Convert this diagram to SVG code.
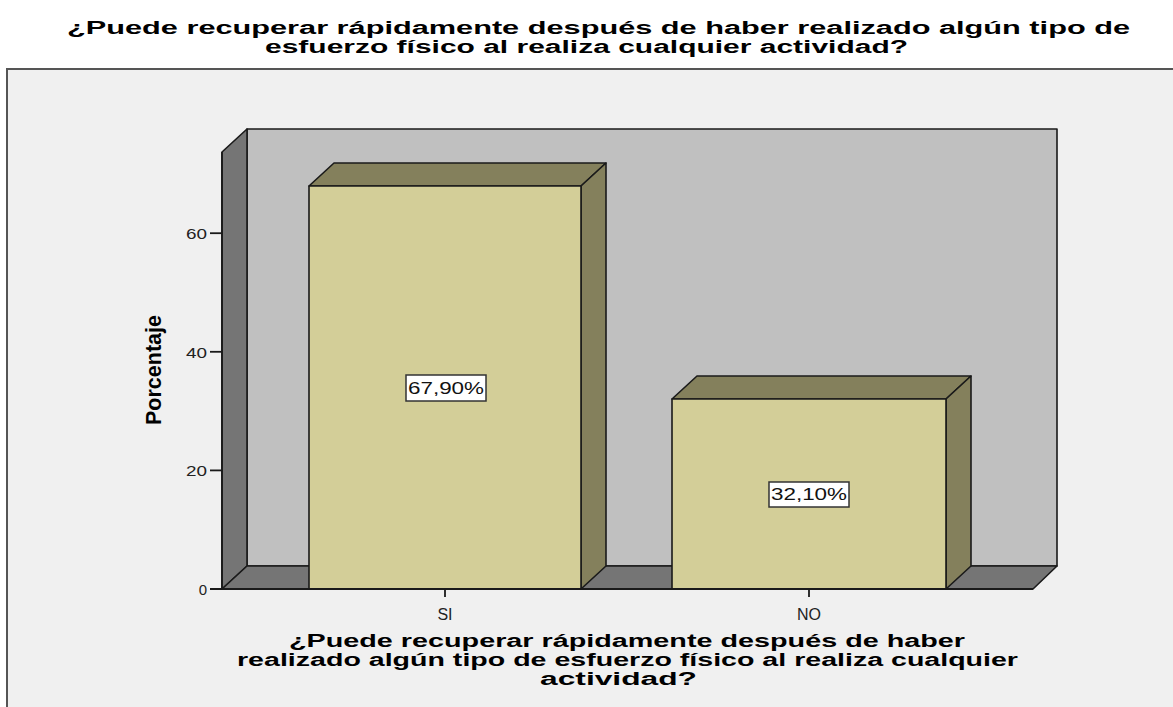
<svg xmlns="http://www.w3.org/2000/svg" width="1173" height="707" viewBox="0 0 1173 707">
<style>
.t{font-family:"Liberation Sans",Arial,sans-serif;font-weight:bold;font-size:18px;fill:#000}
.ax{font-family:"Liberation Sans",Arial,sans-serif;font-size:15px;fill:#222}
.lb{font-family:"Liberation Sans",Arial,sans-serif;font-size:16px;fill:#111}
.ol{stroke:#1a1a1a;stroke-width:1.6;stroke-linejoin:round}
.wall{fill:#c0c0c0}
.dark{fill:#757575}
.front{fill:#d3ce98}
.shade{fill:#84805c}
</style>
<rect x="0" y="0" width="1173" height="707" fill="#ffffff"/>
<g id="frame">
<rect x="7" y="69" width="1180" height="660" fill="#f0f0f0" stroke="#555" stroke-width="2"/>
</g>
<g id="title">
<text class="t" x="67" y="34" textLength="1063" lengthAdjust="spacingAndGlyphs">¿Puede recuperar rápidamente después de haber realizado algún tipo de</text>
<text class="t" x="265" y="53" textLength="643" lengthAdjust="spacingAndGlyphs">esfuerzo físico al realiza cualquier actividad?</text>
</g>
<g id="walls">
<rect class="wall ol" x="247" y="129" width="810" height="437"/>
<polygon class="dark ol" points="222,152 247,129 247,566 222,589"/>
<polygon class="dark ol" points="222,589 247,566 1057,566 1033,589"/>
</g>
<g id="bar-si">
<polygon class="shade ol" points="309,186 334,163 606,163 581,186"/>
<polygon class="shade ol" points="581,186 606,163 606,566 581,589"/>
<rect class="front ol" x="309" y="186" width="272" height="403"/>
<rect x="406" y="375" width="80" height="26" fill="#fff" stroke="#333" stroke-width="1.5"/>
<text class="lb" x="408" y="394" textLength="76" lengthAdjust="spacingAndGlyphs">67,90%</text>
</g>
<g id="bar-no">
<polygon class="shade ol" points="672,399 697,376 971,376 946,399"/>
<polygon class="shade ol" points="946,399 971,376 971,566 946,589"/>
<rect class="front ol" x="672" y="399" width="274" height="190"/>
<rect x="769" y="482" width="80" height="25" fill="#fff" stroke="#333" stroke-width="1.5"/>
<text class="lb" x="771" y="500" textLength="76" lengthAdjust="spacingAndGlyphs">32,10%</text>
</g>
<g id="axes" stroke="#1a1a1a" stroke-width="1.8">
<line x1="222" y1="152" x2="222" y2="589"/>
<line x1="210" y1="589" x2="1033" y2="589"/>
<line x1="210" y1="470.4" x2="222" y2="470.4"/>
<line x1="210" y1="351.8" x2="222" y2="351.8"/>
<line x1="210" y1="233.2" x2="222" y2="233.2"/>
<line x1="445" y1="589" x2="445" y2="597"/>
<line x1="809" y1="589" x2="809" y2="597"/>
</g>
<g id="axis-labels">
<text class="ax" x="207" y="595" text-anchor="end">0</text>
<text class="ax" x="207" y="476" text-anchor="end" textLength="21" lengthAdjust="spacingAndGlyphs">20</text>
<text class="ax" x="207" y="358" text-anchor="end" textLength="21" lengthAdjust="spacingAndGlyphs">40</text>
<text class="ax" x="207" y="239" text-anchor="end" textLength="21" lengthAdjust="spacingAndGlyphs">60</text>
<text class="ax" x="445" y="620" text-anchor="middle" style="font-size:16px">SI</text>
<text class="ax" x="809" y="620" text-anchor="middle" style="font-size:16px">NO</text>
<text class="t" transform="translate(161,425) rotate(-90)" x="0" y="0" style="font-size:22px" textLength="110" lengthAdjust="spacingAndGlyphs">Porcentaje</text>
</g>
<g id="x-title">
<text class="t" x="289" y="647" textLength="676" lengthAdjust="spacingAndGlyphs">¿Puede recuperar rápidamente después de haber</text>
<text class="t" x="237" y="666" textLength="781" lengthAdjust="spacingAndGlyphs">realizado algún tipo de esfuerzo físico al realiza cualquier</text>
<text class="t" x="540" y="685" textLength="157" lengthAdjust="spacingAndGlyphs">actividad?</text>
</g>
</svg>
